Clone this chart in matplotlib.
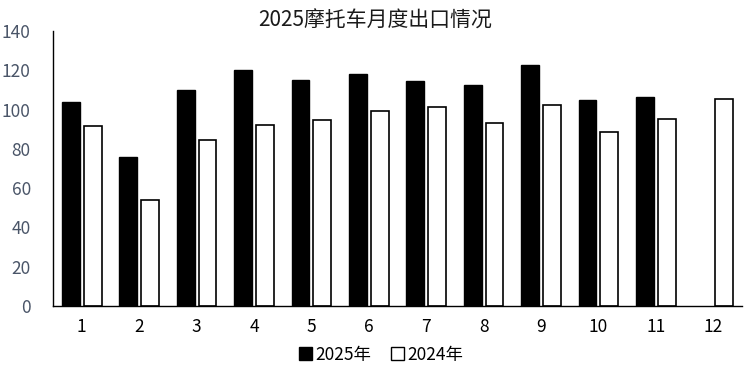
import numpy as np
import matplotlib.pyplot as plt
from matplotlib.patches import Patch

plt.rcParams['font.family'] = ['Noto Sans CJK SC', 'DejaVu Sans']

months = ['1', '2', '3', '4', '5', '6', '7', '8', '9', '10', '11', '12']
exp_2025 = [104.0, 76.0, 109.8, 120.0, 115.2, 118.0, 114.7, 112.4, 122.5, 105.0, 106.2, np.nan]
exp_2024 = [91.5, 54.0, 84.5, 92.0, 94.7, 99.3, 101.3, 93.0, 102.2, 88.4, 95.2, 105.4]

fig = plt.figure(figsize=(7.47, 3.70), dpi=100)
ax = fig.add_axes([53 / 747, 1 - 306 / 370, 689 / 747, 275 / 370])

x = np.arange(len(months))
w = 0.31
ax.bar(x - 0.19, exp_2025, w, color='black', edgecolor='black', linewidth=1)
ax.bar(x + 0.19, exp_2024, w, color='white', edgecolor='black', linewidth=1.2)

ax.set_xlim(-0.5, 11.5)
ax.set_ylim(0, 140)
ax.set_yticks(range(0, 141, 20))
ax.set_xticks(x)
ax.set_xticklabels(months)
ax.tick_params(axis='both', length=0, labelsize=12.5)
ax.tick_params(axis='y', colors='#4a5568', pad=16)
ax.tick_params(axis='x', pad=9)

for s in ['top', 'right']:
    ax.spines[s].set_visible(False)
ax.spines['left'].set_linewidth(1)
ax.spines['bottom'].set_linewidth(1)

fig.suptitle('2025摩托车月度出口情况', x=0.502, y=0.975, fontsize=15, color='#1a1a1a')

handles = [Patch(facecolor='black', edgecolor='black', label='2025年'),
           Patch(facecolor='white', edgecolor='black', label='2024年')]
fig.legend(handles=handles, loc='lower center', bbox_to_anchor=(0.51, -0.025), ncol=2,
           frameon=False, fontsize=12.5, handlelength=0.75, handleheight=0.75,
           handletextpad=0.2, columnspacing=1.1)

fig.savefig('out.png', dpi=100)
